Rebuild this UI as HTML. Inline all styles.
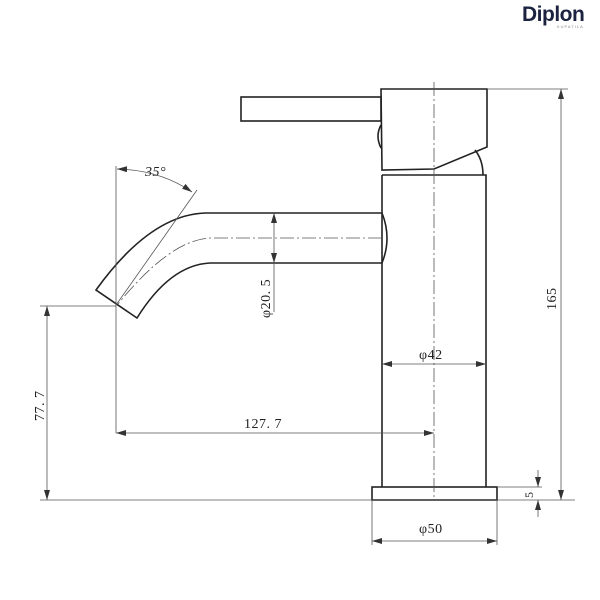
<!DOCTYPE html>
<html><head><meta charset="utf-8"><style>
html,body{margin:0;padding:0;background:#fff;}
svg{display:block;}
text{font-family:"Liberation Serif",serif;fill:#222;}
</style></head><body>
<svg width="600" height="600" viewBox="0 0 600 600" xmlns="http://www.w3.org/2000/svg">
<defs>
<marker id="a" viewBox="0 0 10 6" refX="10" refY="3" markerWidth="10" markerHeight="6" orient="auto-start-reverse" markerUnits="userSpaceOnUse">
<path d="M0,0 L10,3 L0,6 z" fill="#333"/></marker>
</defs>
<!-- logo -->
<text x="522" y="21" style="font-family:'Liberation Sans',sans-serif;font-weight:bold;font-size:21px;fill:#1c2340;letter-spacing:-0.5px">Diplon</text>
<text x="557" y="28" style="font-family:'Liberation Sans',sans-serif;font-size:4px;fill:#888;letter-spacing:1px">KUPATILA</text>

<g fill="none" stroke="#222" stroke-width="1.6">
<rect x="241" y="97" width="140" height="24"/>
<path d="M381,89 L487,89 L487,147 L434,169 L382,170 Z"/>
<path d="M381,125 Q375,136 381,148"/>
<path d="M475,150 Q483,160 483,175"/>
<path d="M382,175 L486,175 L486,487 M382,175 L382,487"/>
<rect x="372" y="487" width="125" height="13"/>
<path d="M382,213 L205,213 Q150,215 96,290 L137,318 Q170,265 210,263 L382,263"/>
<path d="M382,213 Q392,238 382,263"/>
</g>

<g fill="none" stroke="#555" stroke-width="0.8">
<line x1="434" y1="82" x2="434" y2="500" stroke-dasharray="14,3,2,3"/>
<path d="M382,238 L210,238 Q170,240 118,304" stroke-dasharray="14,3,2,3"/>
<line x1="116" y1="166" x2="116" y2="433"/>
<line x1="116" y1="305" x2="197" y2="190"/>
<path d="M117,169 Q160,170 192,192" marker-start="url(#a)" marker-end="url(#a)"/>
<line x1="274" y1="213" x2="274" y2="263" marker-start="url(#a)" marker-end="url(#a)"/>
<line x1="274" y1="263" x2="274" y2="312"/>
<line x1="40" y1="306" x2="116" y2="306"/>
<line x1="47" y1="306" x2="47" y2="500" marker-start="url(#a)" marker-end="url(#a)"/>
<line x1="40" y1="500" x2="575" y2="500"/>
<line x1="116" y1="433" x2="434" y2="433" marker-start="url(#a)" marker-end="url(#a)"/>
<line x1="382" y1="364" x2="486" y2="364" marker-start="url(#a)" marker-end="url(#a)"/>
<line x1="487" y1="89" x2="568" y2="89"/>
<line x1="561" y1="89" x2="561" y2="500" marker-start="url(#a)" marker-end="url(#a)"/>
<line x1="497" y1="487" x2="542" y2="487"/>
<line x1="538" y1="470" x2="538" y2="487" marker-end="url(#a)"/>
<line x1="538" y1="517" x2="538" y2="500" marker-end="url(#a)"/>
<line x1="372" y1="500" x2="372" y2="545"/>
<line x1="497" y1="500" x2="497" y2="545"/>
<line x1="372" y1="541" x2="497" y2="541" marker-start="url(#a)" marker-end="url(#a)"/>
</g>

<g font-size="14" letter-spacing="0.5">
<text x="145" y="176" font-style="italic">35°</text>
<text transform="translate(270,318) rotate(-90)">φ20. 5</text>
<text transform="translate(44,421) rotate(-90)">77. 7</text>
<text x="244" y="428">127. 7</text>
<text x="419" y="359">φ42</text>
<text transform="translate(556,310) rotate(-90)">165</text>
<text transform="translate(533,498) rotate(-90)" font-size="12">5</text>
<text x="419" y="533">φ50</text>
</g>
</svg>
</body></html>
